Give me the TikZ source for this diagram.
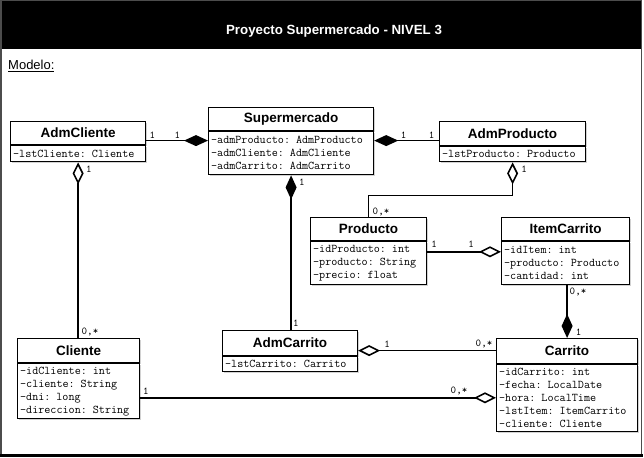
\documentclass[tikz,border=0pt]{standalone}
\usepackage{fontspec}
\setmainfont{Liberation Sans}
\usetikzlibrary{arrows.meta,shadows}
\tikzset{
  classh/.style={draw, line width=1.2pt, fill=white, anchor=north west, inner sep=0pt,
    font=\bfseries\fontsize{13.5}{15}\selectfont,
    drop shadow={shadow xshift=1.3pt, shadow yshift=-1.3pt, fill=black!35}},
  classa/.style={draw, line width=1.2pt, fill=white, anchor=north west, align=left,
    inner xsep=2.5pt, inner ysep=0pt, font=\ttfamily\fontsize{11.8}{13}\selectfont,
    drop shadow={shadow xshift=1.3pt, shadow yshift=-1.3pt, fill=black!35}},
  conn/.style={line width=1.6pt},
  comp/.style={conn, -{Diamond[length=24pt,width=11pt]}},
  compstart/.style={conn, {Diamond[length=24pt,width=11pt]}-},
  agg/.style={conn, -{Diamond[open,length=22pt,width=11pt,fill=white]}},
  aggstart/.style={conn, {Diamond[open,length=22pt,width=11pt,fill=white]}-},
  mult/.style={font=\ttfamily\fontsize{10.5}{12}\selectfont, inner sep=0pt}
}
\newcommand\mkclass[8]{%
  \node[classh, minimum width=#4pt, minimum height=#5pt] (#1h) at (#2,#3) {#7};
  \node[classa, text width=\dimexpr#4pt-5pt\relax, minimum height=#6pt] (#1) at (#1h.south west) {#8};}
\begin{document}
\begin{tikzpicture}[x=1pt,y=-1pt]
\useasboundingbox (0,0) rectangle (644,457);
% frame
\draw[line width=1.5pt, black!70] (0.75,0.75) rectangle (641.5,455);
\draw[line width=3pt] (0,455.5) -- (643,455.5);
\fill[black] (1.5,1.5) rectangle (641,49.5);
\node[text=white, font=\bfseries\fontsize{13.3}{15}\selectfont] (title) at (334,31) {Proyecto Supermercado - NIVEL 3};
\node[anchor=west, inner sep=0pt, font=\fontsize{13}{15}\selectfont] (modelo) at (8,66) {\underline{Modelo:}};

% classes
\mkclass{admcliente}{10}{121}{135}{23}{16}{AdmCliente}{-lstCliente: Cliente}
\mkclass{super}{208}{107}{165}{23}{43}{Supermercado}{-admProducto: AdmProducto\\-admCliente: AdmCliente\\-admCarrito: AdmCarrito}
\mkclass{admproducto}{439}{121}{146}{24}{15}{AdmProducto}{-lstProducto: Producto}
\mkclass{producto}{310}{217}{116}{23}{43}{Producto}{-idProducto: int\\-producto: String\\-precio: float}
\mkclass{item}{501}{217}{128}{23}{43}{ItemCarrito}{-idItem: int\\-producto: Producto\\-cantidad: int}
\mkclass{cliente}{17}{338}{122}{24}{55}{Cliente}{-idCliente: int\\-cliente: String\\-dni: long\\-direccion: String}
\mkclass{admcarrito}{222}{330}{135}{25}{15}{AdmCarrito}{-lstCarrito: Carrito}
\mkclass{carrito}{496}{338}{141}{25}{67}{Carrito}{-idCarrito: int\\-fecha: LocalDate\\-hora: LocalTime\\-lstItem: ItemCarrito\\-cliente: Cliente}

% connectors
\draw[comp] ([yshift=-7.5pt]admclienteh.east) -- ([yshift=-7.5pt]admclienteh.east -| super.west);
\draw[compstart] ([yshift=-7pt]admproductoh.west -| super.east) -- ([yshift=-7pt]admproductoh.west);
\draw[aggstart] (admcliente.south) -- (admcliente.south |- clienteh.north);
\draw[compstart] (super.south) -- (super.south |- admcarritoh.north);
\draw[aggstart] (admproducto.south) -- ([yshift=-33pt]admproducto.south) -| (productoh.north);
\draw[agg] ([yshift=11.5pt]producto.east) -- ([yshift=11.5pt]producto.east -| item.west);
\draw[compstart] (carritoh.north) -- (carritoh.north |- item.south);
\draw[aggstart] ([yshift=-7.5pt]admcarritoh.east) -- ([yshift=-7.5pt]admcarritoh.east -| carritoh.west);
\draw[agg] ([yshift=-6.5pt]cliente.east) -- ([yshift=-6.5pt]cliente.east -| carrito.west);

% multiplicities
\node[mult] (m1) at (152.5,135) {1};
\node[mult] (m2) at (177.5,135) {1};
\node[mult] (m3) at (403.5,135) {1};
\node[mult] (m4) at (431.5,135) {1};
\node[mult] (m5) at (89,169) {1};
\node[mult] (m6) at (302,182) {1};
\node[mult] (m7) at (524,169) {1};
\node[mult] (m8) at (381,212) {0,*};
\node[mult] (m9) at (434,244) {1};
\node[mult] (m10) at (471,244) {1};
\node[mult] (m11) at (578,292) {0,*};
\node[mult] (m12) at (578.5,332) {1};
\node[mult] (m13) at (90,332) {0,*};
\node[mult] (m14) at (296,323) {1};
\node[mult] (m15) at (387,344) {1};
\node[mult] (m16) at (484,344) {0,*};
\node[mult] (m17) at (146,391) {1};
\node[mult] (m18) at (459,391) {0,*};
\end{tikzpicture}
\end{document}
